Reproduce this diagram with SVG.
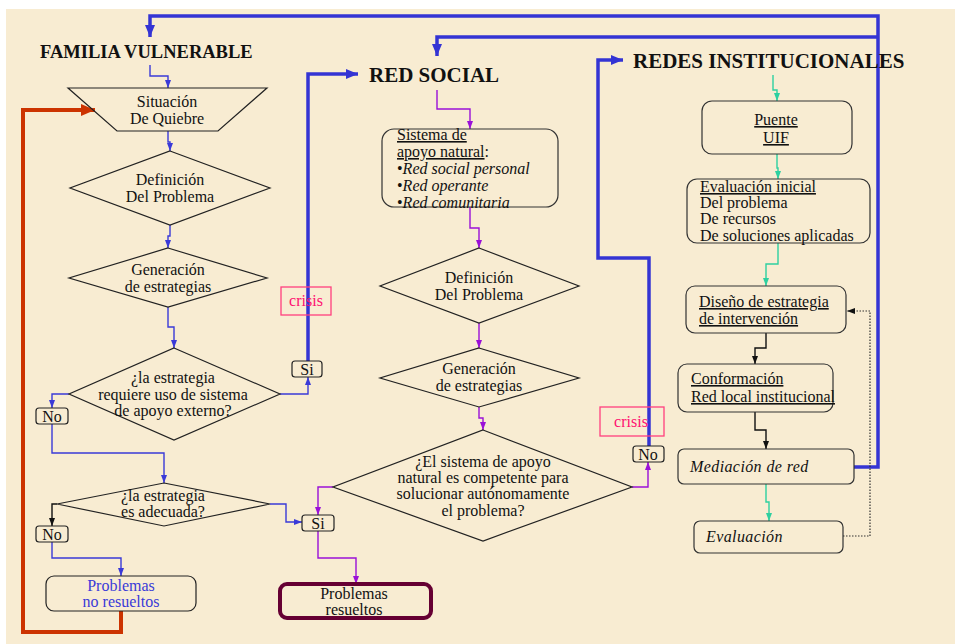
<svg xmlns="http://www.w3.org/2000/svg" width="955" height="644" viewBox="0 0 955 644">
<defs>
<style>
text{font-family:"Liberation Serif","Times New Roman",serif;font-size:16px;fill:#111;}
.ttl{font-weight:bold;}
.c{text-anchor:middle;}
.it{font-style:italic;}
.u{text-decoration:underline;}
.nd{fill:none;stroke:#222;stroke-width:1.2;}
.bx{fill:none;stroke:#333;stroke-width:1.2;}
.blu{fill:none;stroke:#3A3AD8;stroke-width:1.4;}
.blk{fill:none;stroke:#111;stroke-width:1.4;}
.pur{fill:none;stroke:#9A10D8;stroke-width:1.4;}
.tea{fill:none;stroke:#2ED0A0;stroke-width:1.4;}
.thk{fill:none;stroke:#3434D4;stroke-width:3.5;}
.red{fill:none;stroke:#CC3300;stroke-width:4;}
.dot{fill:none;stroke:#333;stroke-width:1.2;stroke-dasharray:1.5 1.5;}
.crs{fill:none;stroke:#FF3F7F;stroke-width:1.3;}
.crt{fill:#FF1070;}
</style>
<marker id="aBlu" markerUnits="userSpaceOnUse" markerWidth="8" markerHeight="8" viewBox="0 0 8 8" refX="8" refY="4" orient="auto"><path d="M0,1 L8,4 L0,7 Z" fill="#3A3AD8"/></marker>
<marker id="aBlk" markerUnits="userSpaceOnUse" markerWidth="8" markerHeight="8" viewBox="0 0 8 8" refX="8" refY="4" orient="auto"><path d="M0,1 L8,4 L0,7 Z" fill="#111"/></marker>
<marker id="aPur" markerUnits="userSpaceOnUse" markerWidth="8" markerHeight="8" viewBox="0 0 8 8" refX="8" refY="4" orient="auto"><path d="M0,1 L8,4 L0,7 Z" fill="#9A10D8"/></marker>
<marker id="aTea" markerUnits="userSpaceOnUse" markerWidth="8" markerHeight="8" viewBox="0 0 8 8" refX="8" refY="4" orient="auto"><path d="M0,1 L8,4 L0,7 Z" fill="#2ED0A0"/></marker>
<marker id="aThk" markerUnits="userSpaceOnUse" markerWidth="12" markerHeight="12" viewBox="0 0 12 12" refX="12" refY="6" orient="auto"><path d="M0,1 L12,6 L0,11 Z" fill="#3434D4"/></marker>
<marker id="aRed" markerUnits="userSpaceOnUse" markerWidth="14" markerHeight="14" viewBox="0 0 14 14" refX="14" refY="7" orient="auto"><path d="M0,1 L14,7 L0,13 Z" fill="#CC3300"/></marker>
</defs>
<rect x="0" y="0" width="955" height="644" fill="#ffffff"/>
<rect x="6" y="9" width="949" height="635" fill="#F8ECD2"/>

<g id="connectors">
<path class="blu" d="M150,65 V76 H168 V88" marker-end="url(#aBlu)"/>
<path class="blu" d="M168,131 V142 H170 V151" marker-end="url(#aBlu)"/>
<path class="blu" d="M170,225 V236 H168 V248" marker-end="url(#aBlu)"/>
<path class="blu" d="M168,307 V327 H174 V348" marker-end="url(#aBlu)"/>
<path class="blu" d="M69,394 H52 V408" marker-end="url(#aBlu)"/>
<path class="blu" d="M280,394 H308 V377" marker-end="url(#aBlu)"/>
<path class="blu" d="M52,424 V453 H164 V483" marker-end="url(#aBlu)"/>
<path class="blk" d="M57,504 H52 V526" marker-end="url(#aBlk)"/>
<path class="blu" d="M270,504 H286 V522 H302" marker-end="url(#aBlu)"/>
<path class="blu" d="M52,542 V558 H121 V576" marker-end="url(#aBlu)"/>
<path class="red" d="M121,611 V632 H23 V110 H95" marker-end="url(#aRed)"/>
<path class="thk" d="M854,467 H878 V16 H150 V37" marker-end="url(#aThk)"/>
<path class="thk" d="M878,37 H437 V56" marker-end="url(#aThk)"/>
<path class="thk" d="M308,361 V74 H358" marker-end="url(#aThk)"/>
<path class="thk" d="M649,446 V258 H598 V60 H623" marker-end="url(#aThk)"/>
<path class="pur" d="M437,90 V109 H470 V129" marker-end="url(#aPur)"/>
<path class="pur" d="M470,207 V228 H479 V248" marker-end="url(#aPur)"/>
<path class="pur" d="M479,323 V348" marker-end="url(#aPur)"/>
<path class="pur" d="M479,407 V418 H483 V430" marker-end="url(#aPur)"/>
<path class="pur" d="M333,487 H318 V515" marker-end="url(#aPur)"/>
<path class="pur" d="M318,531 V558 H356 V584" marker-end="url(#aPur)"/>
<path class="pur" d="M632,487 H648 V462" marker-end="url(#aPur)"/>
<path class="tea" d="M773,75 V90 H777 V101" marker-end="url(#aTea)"/>
<path class="tea" d="M777,154 V168 H778 V179" marker-end="url(#aTea)"/>
<path class="tea" d="M778,243 V264 H766 V286" marker-end="url(#aTea)"/>
<path class="blk" d="M766,333 V348 H755 V364" marker-end="url(#aBlk)"/>
<path class="blk" d="M755,412 V430 H766 V449" marker-end="url(#aBlk)"/>
<path class="tea" d="M766,484 V502 H769 V521" marker-end="url(#aTea)"/>
<path class="dot" d="M843,536 H870 V311 H847" marker-end="url(#aBlk)"/>
</g>

<g id="titulo-familia"><text class="ttl" x="40" y="58" style="font-size:18.5px">FAMILIA VULNERABLE</text></g>
<g id="titulo-red-social"><text class="ttl" x="369" y="82" style="font-size:21px">RED SOCIAL</text></g>
<g id="titulo-redes"><text class="ttl" x="633" y="68" style="font-size:21px">REDES INSTITUCIONALES</text></g>

<g id="situacion-quiebre">
<polygon class="nd" points="68,88 267,88 218,131 117,131"/>
<text class="c" x="167" y="107">Situación</text>
<text class="c" x="167" y="124">De Quiebre</text>
</g>
<g id="definicion-1">
<polygon class="nd" points="170,151 270,188 170,225 70,188"/>
<text class="c" x="170" y="185">Definición</text>
<text class="c" x="170" y="202">Del Problema</text>
</g>
<g id="generacion-1">
<polygon class="nd" points="168,248 267,278 168,307 69,278"/>
<text class="c" x="168" y="275">Generación</text>
<text class="c" x="168" y="292">de estrategias</text>
</g>
<g id="requiere-apoyo">
<polygon class="nd" points="174,348 280,394 174,440 69,394"/>
<text class="c" x="173" y="383">¿la estrategia</text>
<text class="c" x="173" y="400">requiere uso de sistema</text>
<text class="c" x="173" y="416">de apoyo externo?</text>
</g>
<g id="si-1"><rect class="nd" x="292" y="361" width="30" height="16" rx="3"/><text class="c" x="307" y="375">Si</text></g>
<g id="no-1"><rect class="nd" x="36" y="408" width="32" height="16" rx="3"/><text class="c" x="52" y="422">No</text></g>
<g id="crisis-1"><rect class="crs" x="281" y="287" width="50" height="28"/><text class="c crt" x="306" y="306">crisis</text></g>
<g id="es-adecuada">
<polygon class="nd" points="164,483 270,504 164,526 57,504"/>
<text class="c" x="163" y="501">¿la estrategia</text>
<text class="c" x="163" y="517">es adecuada?</text>
</g>
<g id="no-2"><rect class="nd" x="36" y="526" width="32" height="16" rx="3"/><text class="c" x="52" y="540">No</text></g>
<g id="si-2"><rect class="nd" x="302" y="515" width="32" height="16" rx="3"/><text class="c" x="318" y="529">Si</text></g>
<g id="problemas-no-resueltos">
<rect class="nd" x="46" y="576" width="150" height="35" rx="8"/>
<text class="c" x="121" y="591" style="fill:#3A3AD8">Problemas</text>
<text class="c" x="121" y="607" style="fill:#3A3AD8">no resueltos</text>
</g>

<g id="sistema-apoyo-natural">
<rect class="bx" x="382" y="129" width="176" height="78" rx="12"/>
<text x="397" y="140"><tspan class="u">Sistema de</tspan></text>
<text x="397" y="157"><tspan class="u">apoyo natural</tspan>:</text>
<text x="397" y="174">•<tspan class="it">Red social personal</tspan></text>
<text x="397" y="191">•<tspan class="it">Red operante</tspan></text>
<text x="397" y="208">•<tspan class="it">Red comunitaria</tspan></text>
</g>
<g id="definicion-2">
<polygon class="nd" points="479,248 579,286 479,323 380,286"/>
<text class="c" x="479" y="283">Definición</text>
<text class="c" x="479" y="300">Del Problema</text>
</g>
<g id="generacion-2">
<polygon class="nd" points="479,348 579,378 479,407 380,378"/>
<text class="c" x="479" y="374">Generación</text>
<text class="c" x="479" y="391">de estrategias</text>
</g>
<g id="sistema-competente">
<polygon class="nd" points="483,430 632,487 483,541 333,487"/>
<text class="c" x="483" y="467">¿El sistema de apoyo</text>
<text class="c" x="483" y="483">natural es competente para</text>
<text class="c" x="483" y="499">solucionar autónomamente</text>
<text class="c" x="483" y="516">el problema?</text>
</g>
<g id="problemas-resueltos">
<rect x="280" y="584" width="151" height="34" rx="7" fill="none" stroke="#660033" stroke-width="4"/>
<text class="c" x="354" y="599">Problemas</text>
<text class="c" x="354" y="615">resueltos</text>
</g>
<g id="no-3"><rect class="nd" x="633" y="446" width="31" height="16" rx="3"/><text class="c" x="648" y="460">No</text></g>
<g id="crisis-2"><rect class="crs" x="600" y="407" width="64" height="29"/><text class="c crt" x="631" y="427">crisis</text></g>

<g id="puente-uif">
<rect class="bx" x="702" y="101" width="150" height="53" rx="10"/>
<text class="c u" x="776" y="125">Puente</text>
<text class="c u" x="776" y="143">UIF</text>
</g>
<g id="evaluacion-inicial">
<rect class="bx" x="687" y="179" width="183" height="64" rx="10"/>
<text class="u" x="700" y="192">Evaluación inicial</text>
<text x="700" y="208">Del problema</text>
<text x="700" y="224">De recursos</text>
<text x="700" y="241">De soluciones aplicadas</text>
</g>
<g id="diseno-estrategia">
<rect class="bx" x="686" y="286" width="160" height="47" rx="9"/>
<text class="u" x="699" y="307">Diseño de estrategia</text>
<text class="u" x="699" y="324">de intervención</text>
</g>
<g id="conformacion-red">
<rect class="bx" x="678" y="364" width="155" height="48" rx="9"/>
<text class="u" x="691" y="384">Conformación</text>
<text class="u" x="691" y="402">Red local institucional</text>
</g>
<g id="mediacion-red">
<rect class="bx" x="678" y="449" width="176" height="35" rx="6"/>
<text class="it" x="690" y="472" style="letter-spacing:0.4px">Mediación de red</text>
</g>
<g id="evaluacion">
<rect class="bx" x="694" y="521" width="149" height="32" rx="6"/>
<text class="it" x="706" y="542" style="letter-spacing:0.4px">Evaluación</text>
</g>
</svg>
